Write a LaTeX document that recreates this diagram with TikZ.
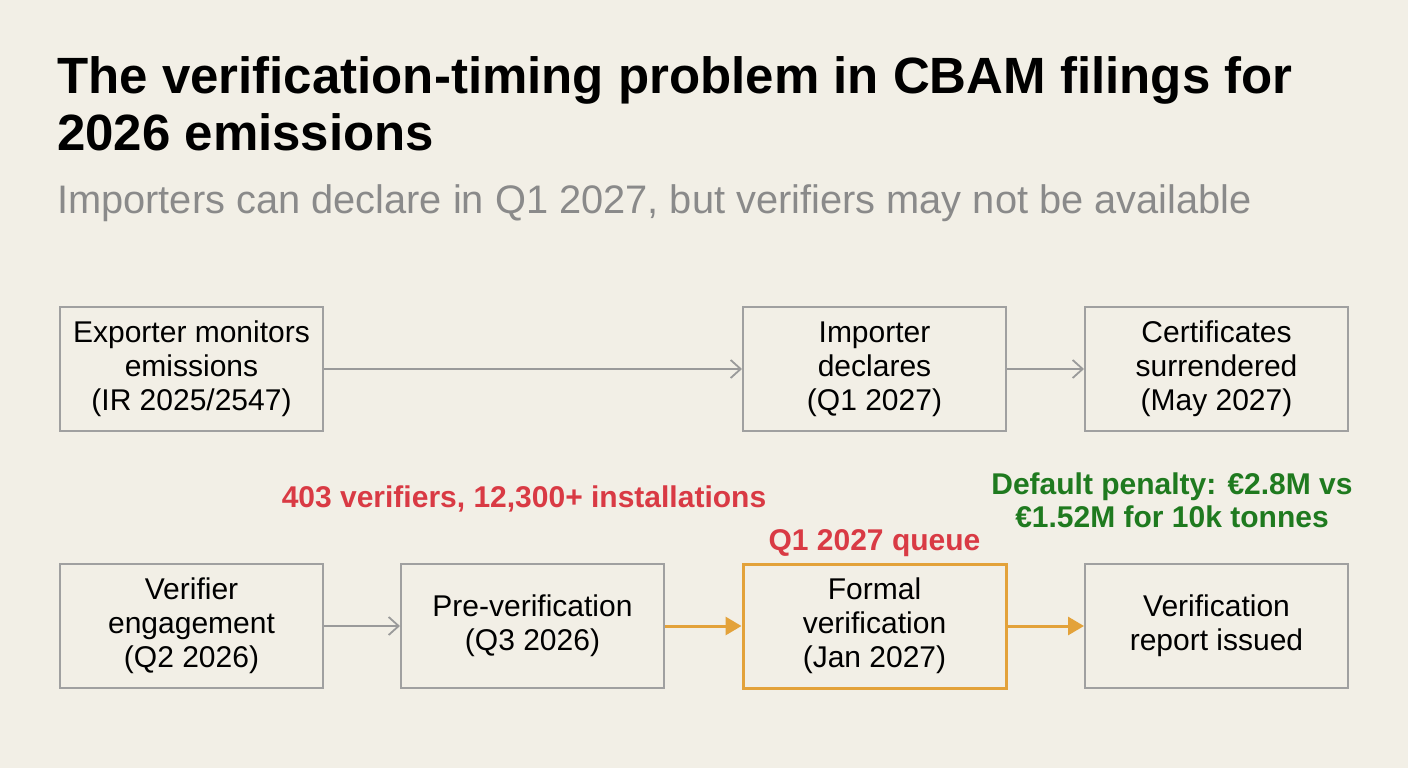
\documentclass[tikz,border=0pt]{standalone}
\usepackage{fontspec}
\setmainfont{Liberation Sans}
\usetikzlibrary{arrows.meta}
\definecolor{bg}{HTML}{F2EFE6}
\definecolor{boxline}{HTML}{A0A0A0}
\definecolor{arrgrey}{HTML}{9A9A9A}
\definecolor{orangeC}{HTML}{E3A23A}
\definecolor{redC}{HTML}{D93A44}
\definecolor{greenC}{HTML}{1F7A1F}
\definecolor{subgrey}{HTML}{8A8A8A}
\tikzset{
  stepbox/.style={draw=boxline, line width=2pt, minimum width=263pt, minimum height=124pt, align=center, font=\fontsize{30}{34}\selectfont, text=black, inner sep=0pt},
  hotbox/.style={stepbox, draw=orangeC, line width=3pt},
  greyarr/.style={draw=arrgrey, line width=1.8pt, -{Straight Barb[length=10pt,width=18pt,line width=1.8pt]}},
  orangearr/.style={draw=orangeC, line width=3pt, -{Triangle[length=16pt,width=18pt]}},
  notelabel/.style={font=\bfseries\fontsize{30}{33}\selectfont, align=center}
}
\begin{document}
\begin{tikzpicture}[x=1pt,y=-1pt]
\fill[bg] (0,0) rectangle (1408,768);
\useasboundingbox (0,0) rectangle (1408,768);
\node[anchor=base west, font=\bfseries\fontsize{51}{57}\selectfont, inner sep=0pt] (t1) at (57,93) {The verification-timing problem in CBAM filings for};
\node[anchor=base west, font=\bfseries\fontsize{51}{57}\selectfont, inner sep=0pt] (t2) at (57,150) {2026 emissions};
\node[anchor=base west, font=\fontsize{39.8}{44}\selectfont, text=subgrey, inner sep=0pt] (sub) at (57,213) {Importers can declare in Q1 2027, but verifiers may not be available};

\node[stepbox] (exp) at (191.5,369) {Exporter monitors\\emissions\\(IR 2025/2547)};
\node[stepbox] (imp) at (874.5,369) {Importer\\declares\\(Q1 2027)};
\node[stepbox] (cert) at (1216.5,369) {Certificates\\surrendered\\(May 2027)};
\node[stepbox] (ver) at (191.5,626) {Verifier\\engagement\\(Q2 2026)};
\node[stepbox] (pre) at (532.5,626) {Pre-verification\\(Q3 2026)};
\node[hotbox] (form) at (874.5,626) {Formal\\verification\\(Jan 2027)};
\node[stepbox] (rep) at (1216.5,626) {Verification\\report issued};

\draw[greyarr] (exp) -- (imp);
\draw[greyarr] (imp) -- (cert);
\draw[greyarr] (ver) -- (pre);
\draw[orangearr] (pre) -- (form);
\draw[orangearr] (form) -- (rep);

\node[notelabel, text=redC] (n1) at (524,499) {403 verifiers, 12,300+ installations};
\node[notelabel, text=redC] (n2) at (874.5,543) {Q1 2027 queue};
\node[notelabel, text=greenC] (n3) at (1172,500) {Default penalty: €2.8M vs\\€1.52M for 10k tonnes};
\end{tikzpicture}
\end{document}
